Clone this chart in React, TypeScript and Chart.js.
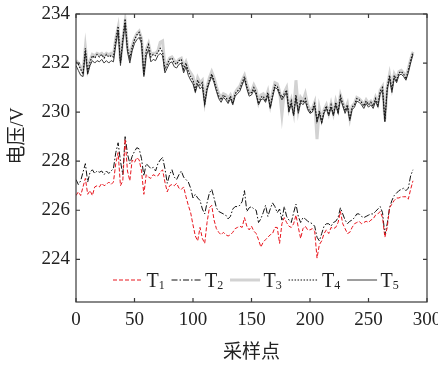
import React, { useEffect, useRef } from "react";
import { Chart, registerables } from "chart.js";

Chart.register(...registerables);

// Sample index (every second sampling point)
const SAMPLES = [
  0, 2, 4, 6, 8, 10, 12, 14, 16, 18,
  20, 22, 24, 26, 28, 30, 32, 34, 36, 38,
  40, 42, 44, 46, 48, 50, 52, 54, 56, 58,
  60, 62, 64, 66, 68, 70, 72, 74, 76, 78,
  80, 82, 84, 86, 88, 90, 92, 94, 96, 98,
  100, 102, 104, 106, 108, 110, 112, 114, 116, 118,
  120, 122, 124, 126, 128, 130, 132, 134, 136, 138,
  140, 142, 144, 146, 148, 150, 152, 154, 156, 158,
  160, 162, 164, 166, 168, 170, 172, 174, 176, 178,
  180, 182, 184, 186, 188, 190, 192, 194, 196, 198,
  200, 202, 204, 206, 208, 210, 212, 214, 216, 218,
  220, 222, 224, 226, 228, 230, 232, 234, 236, 238,
  240, 242, 244, 246, 248, 250, 252, 254, 256, 258,
  260, 262, 264, 266, 268, 270, 272, 274, 276, 278,
  280, 282, 284, 286, 288,
];

// Voltage (V) per series
const T1 = [
  226.6, 226.75, 226.6, 226.95, 227.3, 226.65, 226.8, 226.6, 226.95, 227.0,
  226.95, 227.1, 227.0, 227.05, 227.15, 227.05, 227.15, 227.9, 228.35, 227.0,
  227.2, 228.9, 227.6, 227.2, 228.05, 227.95, 228.15, 228.05, 227.6, 226.65,
  227.45, 227.35, 227.3, 227.45, 227.4, 227.4, 227.55, 227.65, 227.15, 226.75,
  227.0, 227.05, 227.0, 227.1, 226.9, 226.85, 226.95, 226.55, 226.2, 225.9,
  225.4, 224.95, 224.75, 225.3, 224.85, 224.65, 225.5, 226.1, 226.2, 225.6,
  225.25, 225.1, 225.0, 225.1, 225.0, 224.95, 225.0, 225.1, 225.25, 225.3,
  225.35, 225.3, 225.7, 225.35, 225.2, 225.35, 225.15, 225.05, 224.8, 224.5,
  224.7, 224.8, 224.9, 225.0, 225.05, 225.3, 225.3, 224.65, 225.45, 225.7,
  225.5, 225.35, 225.3, 225.45, 225.8, 225.3, 224.85, 225.25, 225.35, 225.2,
  225.2, 225.25, 225.15, 224.05, 224.6, 224.75, 225.05, 225.2, 225.05, 225.3,
  225.25, 225.3, 225.5, 225.95, 225.45, 225.25, 225.05, 225.1, 225.3, 225.45,
  225.5, 225.55, 225.45, 225.5, 225.55, 225.5, 225.6, 225.65, 225.8, 225.85,
  225.95, 225.7, 224.9, 225.3, 226.1, 226.25, 226.4, 226.5, 226.5, 226.55,
  226.55, 226.55, 226.45, 226.85, 227.2,
];

const T2 = [
  227.25, 227.05, 227.2, 227.55, 227.9, 227.15, 227.55, 227.65, 227.5, 227.6,
  227.55, 227.6, 227.45, 227.6, 227.5, 227.6, 227.7, 228.35, 228.75, 228.0,
  227.45, 229.0, 228.3, 227.9, 228.2, 228.4, 228.55, 228.5, 228.1, 227.4,
  227.9, 227.8, 227.7, 227.75, 227.6, 227.9, 228.05, 228.15, 227.7, 227.1,
  227.45, 227.65, 227.35, 227.25, 227.45, 227.6, 227.35, 227.25, 227.15, 226.9,
  226.5, 226.65, 226.5, 226.4, 226.05, 225.85, 226.3, 226.7, 226.85, 226.5,
  226.1, 225.95, 225.9, 225.85, 225.8, 225.65, 225.75, 226.05, 226.15, 226.15,
  226.2, 226.35, 226.8, 225.95, 226.1, 226.15, 226.05, 226.0, 225.5, 225.65,
  225.9, 226.2, 225.75, 226.05, 226.3, 226.15, 225.9, 226.05, 225.6, 226.15,
  225.75, 225.6, 225.5, 225.9, 226.25, 225.75, 225.5, 225.7, 225.65, 225.55,
  225.5, 225.45, 225.35, 224.9, 224.75, 225.05, 225.35, 225.45, 225.45, 225.35,
  225.5, 225.55, 225.7, 226.1, 225.85, 225.6, 225.45, 225.55, 225.6, 225.7,
  225.85, 225.85, 225.75, 225.7, 225.75, 225.8, 225.85, 225.85, 225.95, 226.05,
  226.15, 225.9, 225.0, 225.45, 226.1, 226.4, 226.6, 226.7, 226.8, 226.85,
  226.9, 226.8, 226.9, 227.4, 227.65,
];

const T3 = [
  232.1, 232.0, 231.85, 231.65, 232.65, 231.75, 232.1, 232.35, 232.3, 232.4,
  232.35, 232.4, 232.3, 232.4, 232.35, 232.4, 232.3, 233.0, 233.45, 232.1,
  232.95, 233.7, 232.65, 232.3, 232.7, 233.0, 233.2, 233.3, 233.0, 231.6,
  232.55, 232.8, 232.35, 232.4, 232.4, 232.5, 232.85, 232.9, 231.85, 232.0,
  232.2, 232.25, 232.1, 232.0, 232.15, 232.2, 231.85, 232.05, 231.75, 231.6,
  231.45, 231.0, 231.4, 231.2, 231.3, 230.45, 231.05, 231.4, 231.65, 231.4,
  231.05, 230.75, 230.6, 230.75, 230.7, 230.55, 230.7, 230.45, 230.8, 230.95,
  231.05, 231.3, 231.5, 231.15, 230.85, 230.85, 231.1, 230.9, 230.4, 230.7,
  230.75, 230.55, 230.85, 230.3, 230.8, 231.2, 231.15, 230.85, 229.9, 230.8,
  231.0, 230.15, 230.5, 230.0, 231.3, 230.1, 230.6, 230.45, 230.75, 230.3,
  230.1, 230.15, 230.4, 228.9, 230.15, 229.7, 230.1, 230.3, 229.95, 230.35,
  229.95, 230.45, 230.1, 230.7, 230.4, 230.1, 230.35, 229.75, 230.25, 230.35,
  230.6, 230.55, 230.45, 230.3, 230.5, 230.35, 230.45, 230.3, 230.6, 230.35,
  230.9, 231.05, 229.7, 231.05, 231.55, 231.0, 231.55, 231.35, 231.65, 231.7,
  231.6, 231.45, 231.75, 232.15, 232.45,
];

const T4 = [
  232.05, 231.95, 231.75, 231.55, 232.6, 231.65, 232.05, 232.3, 232.2, 232.35,
  232.25, 232.35, 232.2, 232.35, 232.25, 232.3, 232.25, 232.95, 233.5, 232.0,
  233.0, 233.8, 232.6, 232.2, 232.65, 232.95, 233.15, 233.25, 232.95, 231.5,
  232.5, 232.75, 232.25, 232.35, 232.3, 232.45, 232.6, 232.45, 231.75, 231.95,
  232.15, 232.2, 232.0, 231.95, 232.1, 232.15, 231.75, 232.0, 231.65, 231.45,
  231.3, 230.9, 231.3, 231.1, 231.2, 230.35, 231.0, 231.3, 231.55, 231.3,
  230.95, 230.65, 230.5, 230.7, 230.6, 230.45, 230.65, 230.35, 230.75, 230.85,
  230.95, 231.2, 231.45, 231.05, 230.75, 230.8, 231.0, 230.8, 230.35, 230.6,
  230.65, 230.45, 230.8, 230.2, 230.7, 231.1, 231.05, 230.8, 230.6, 230.75,
  230.9, 230.1, 230.45, 229.9, 230.7, 230.05, 230.5, 230.4, 230.55, 230.2,
  230.0, 230.1, 230.35, 229.65, 230.05, 229.6, 230.05, 230.25, 229.9, 230.3,
  229.9, 230.4, 230.0, 230.65, 230.35, 230.05, 230.3, 229.7, 230.2, 230.3,
  230.55, 230.5, 230.4, 230.25, 230.45, 230.3, 230.4, 230.25, 230.55, 230.3,
  230.85, 231.0, 229.65, 231.0, 231.5, 230.9, 231.5, 231.3, 231.6, 231.65,
  231.55, 231.35, 231.7, 232.1, 232.45,
];

const T5 = [
  231.9, 231.7, 231.5, 231.45, 232.45, 231.55, 231.9, 232.1, 232.0, 232.1,
  232.05, 232.15, 232.0, 232.1, 232.0, 232.1, 232.05, 232.75, 233.3, 231.9,
  232.85, 233.6, 232.45, 232.0, 232.5, 232.8, 232.95, 233.05, 232.8, 231.45,
  232.3, 232.55, 232.05, 232.15, 232.1, 232.3, 232.4, 232.3, 231.6, 231.8,
  232.0, 232.05, 231.85, 231.8, 231.95, 232.0, 231.6, 231.85, 231.5, 231.3,
  231.15, 230.8, 231.15, 230.95, 231.05, 230.3, 230.9, 231.2, 231.45, 231.2,
  230.85, 230.55, 230.4, 230.6, 230.5, 230.35, 230.55, 230.3, 230.65, 230.75,
  230.85, 231.1, 231.35, 230.95, 230.65, 230.7, 230.9, 230.7, 230.3, 230.5,
  230.55, 230.4, 230.7, 230.15, 230.6, 231.0, 230.95, 230.7, 230.5, 230.65,
  230.8, 230.0, 230.35, 229.85, 230.6, 229.95, 230.4, 230.3, 230.45, 230.1,
  229.95, 230.0, 230.25, 229.6, 229.95, 229.55, 229.95, 230.15, 229.85, 230.2,
  229.85, 230.3, 229.95, 230.55, 230.25, 229.95, 230.2, 229.65, 230.1, 230.2,
  230.45, 230.4, 230.3, 230.15, 230.35, 230.2, 230.3, 230.15, 230.45, 230.2,
  230.75, 230.9, 229.6, 230.9, 231.4, 230.8, 231.4, 231.2, 231.5, 231.55,
  231.45, 231.3, 231.6, 232.0, 232.35,
];

const SERIES_NAMES = ["T1", "T2", "T3", "T4", "T5"];
const X_TICKS = [0, 50, 100, 150, 200, 250, 300];
const Y_TICKS = [224, 226, 228, 230, 232, 234];
const X_MIN = 0;
const X_MAX = 300;
const Y_MIN = 222.26;
const Y_MAX = 234;
const X_TITLE = "采样点";
const Y_TITLE = "电压/V";

const SERIF = '"Liberation Serif", "Times New Roman", "Noto Sans CJK SC", serif';
const INK = "#222222";
const FRAME = "#3a3a3a";

type Style = { color: string; width: number; dash: number[]; order: number };
const STYLES: Style[] = [
  { color: "#e8161e", width: 1, dash: [4, 2], order: 0 },
  { color: "#111111", width: 1, dash: [6, 2, 1.5, 2], order: 1 },
  { color: "#d2d2d2", width: 3, dash: [], order: 9 },
  { color: "#111111", width: 1.2, dash: [1.5, 1.5], order: 2 },
  { color: "#3c3c3c", width: 1, dash: [], order: 3 },
];

const SERIES = [T1, T2, T3, T4, T5];

const framePlugin = {
  id: "frameAndLabels",
  afterDraw(chart: any) {
    const { ctx, chartArea: a, scales } = chart;
    const xs = scales.x;
    const ys = scales.y;
    ctx.save();

    // box frame with inward ticks on all four sides
    ctx.strokeStyle = FRAME;
    ctx.lineWidth = 1.2;
    ctx.setLineDash([]);
    ctx.strokeRect(a.left, a.top, a.right - a.left, a.bottom - a.top);
    ctx.beginPath();
    const tl = 4;
    for (const v of X_TICKS) {
      const x = xs.getPixelForValue(v);
      ctx.moveTo(x, a.bottom);
      ctx.lineTo(x, a.bottom - tl);
      ctx.moveTo(x, a.top);
      ctx.lineTo(x, a.top + tl);
    }
    for (const v of Y_TICKS) {
      const y = ys.getPixelForValue(v);
      ctx.moveTo(a.left, y);
      ctx.lineTo(a.left + tl, y);
      ctx.moveTo(a.right, y);
      ctx.lineTo(a.right - tl, y);
    }
    ctx.stroke();

    // legend row inside the plot, near the bottom
    const ly = a.bottom - 22;
    let lx = a.left + 37;
    const lineLen = 30;
    SERIES_NAMES.forEach((name, i) => {
      const st = STYLES[i];
      ctx.beginPath();
      ctx.strokeStyle = st.color;
      ctx.lineWidth = st.width;
      ctx.setLineDash(st.dash);
      ctx.moveTo(lx, ly);
      ctx.lineTo(lx + lineLen, ly);
      ctx.stroke();
      ctx.setLineDash([]);
      lx += lineLen + 3.5;
      const main = name.slice(0, 1);
      const sub = name.slice(1);
      ctx.fillStyle = INK;
      ctx.textAlign = "left";
      ctx.textBaseline = "alphabetic";
      ctx.font = `20px ${SERIF}`;
      ctx.fillText(main, lx, ly + 7);
      lx += ctx.measureText(main).width;
      ctx.font = `12px ${SERIF}`;
      ctx.fillText(sub, lx, ly + 8.5);
      lx += ctx.measureText(sub).width + 6.8;
    });

    // axis titles
    ctx.fillStyle = INK;
    ctx.font = `19px ${SERIF}`;
    ctx.textAlign = "center";
    ctx.textBaseline = "middle";
    ctx.fillText(X_TITLE, (a.left + a.right) / 2, 353);
    ctx.translate(18, 136);
    ctx.rotate(-Math.PI / 2);
    ctx.fillText(Y_TITLE, 0, 0);
    ctx.restore();
  },
};

export default function App() {
  const canvasRef = useRef<HTMLCanvasElement | null>(null);

  useEffect(() => {
    const canvas = canvasRef.current;
    if (!canvas) return;

    const datasets = SERIES.map((vals, i) => ({
      label: SERIES_NAMES[i],
      data: vals.map((v, k) => ({ x: SAMPLES[k], y: v })),
      borderColor: STYLES[i].color,
      borderWidth: STYLES[i].width,
      borderDash: STYLES[i].dash,
      pointRadius: 0,
      tension: 0,
      fill: false,
      order: STYLES[i].order,
    }));

    const tickFont = { family: SERIF, size: 19 };

    const chart = new Chart(canvas, {
      type: "line",
      data: { datasets },
      options: {
        animation: false,
        responsive: false,
        devicePixelRatio: 1,
        layout: { padding: { top: 14, right: 11, left: 0, bottom: 0 } },
        plugins: {
          legend: { display: false },
          tooltip: { enabled: false },
        },
        scales: {
          x: {
            type: "linear",
            min: X_MIN,
            max: X_MAX,
            grid: { drawOnChartArea: false, drawTicks: false },
            border: { display: false },
            ticks: { font: tickFont, color: INK, padding: 7, maxRotation: 0 },
            afterBuildTicks: (s: any) => {
              s.ticks = X_TICKS.map((value) => ({ value }));
            },
            afterFit: (s: any) => {
              s.height = 66;
              s.paddingLeft = 0;
              s.paddingRight = 0;
            },
          },
          y: {
            type: "linear",
            min: Y_MIN,
            max: Y_MAX,
            grid: { drawOnChartArea: false, drawTicks: false },
            border: { display: false },
            ticks: { font: tickFont, color: INK, padding: 6 },
            afterBuildTicks: (s: any) => {
              s.ticks = Y_TICKS.map((value) => ({ value }));
            },
            afterFit: (s: any) => {
              s.width = 76;
              s.paddingTop = 0;
              s.paddingBottom = 0;
            },
          },
        },
      },
      plugins: [framePlugin],
    } as any);

    return () => chart.destroy();
  }, []);

  return (
    <div style={{ position: "absolute", left: 0, top: 0, width: 438, height: 368, background: "#fff" }}>
      <canvas ref={canvasRef} width={438} height={368} style={{ display: "block" }} />
    </div>
  );
}
